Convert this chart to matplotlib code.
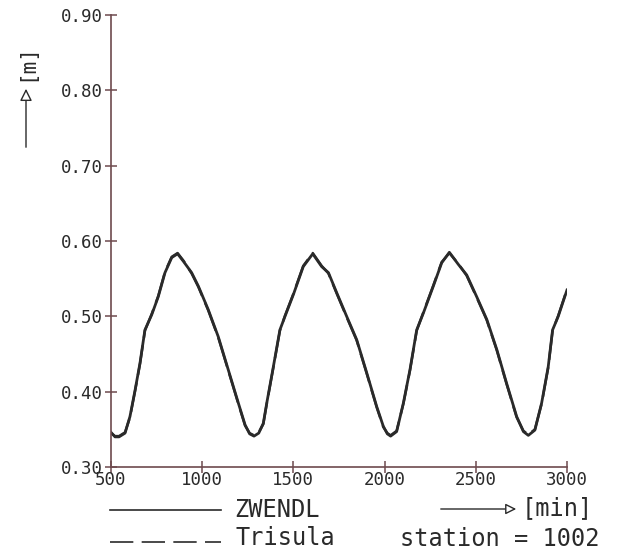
import matplotlib
matplotlib.use("Agg")
import matplotlib.pyplot as plt
from matplotlib.lines import Line2D

# water level at station 1002
t_min = [500, 522, 544, 577, 604, 632, 659, 686, 723, 759, 796, 833, 865, 897,
         942, 979, 1033, 1088, 1143, 1198, 1235, 1260, 1284, 1310, 1335, 1354,
         1390, 1426, 1454, 1500, 1554, 1606, 1655, 1692, 1738, 1792, 1847, 1902,
         1957, 1993, 2015, 2033, 2066, 2103, 2139, 2176, 2212, 2267, 2313, 2355,
         2404, 2450, 2505, 2560, 2615, 2669, 2724, 2761, 2788, 2824, 2861, 2897,
         2921, 2952, 3000]
zwendl = [0.346, 0.340, 0.340, 0.345, 0.367, 0.402, 0.438, 0.482, 0.502, 0.526,
          0.558, 0.578, 0.583, 0.573, 0.558, 0.540, 0.509, 0.473, 0.429, 0.385,
          0.356, 0.344, 0.341, 0.345, 0.358, 0.385, 0.433, 0.482, 0.500, 0.529,
          0.566, 0.583, 0.566, 0.558, 0.531, 0.500, 0.469, 0.425, 0.380, 0.354,
          0.344, 0.341, 0.347, 0.385, 0.429, 0.482, 0.504, 0.540, 0.571, 0.585,
          0.569, 0.555, 0.526, 0.496, 0.456, 0.411, 0.367, 0.347, 0.342, 0.349,
          0.385, 0.433, 0.482, 0.500, 0.535]
trisula = [0.345, 0.341, 0.341, 0.346, 0.366, 0.401, 0.437, 0.481, 0.503, 0.527,
           0.559, 0.579, 0.584, 0.574, 0.557, 0.539, 0.508, 0.472, 0.428, 0.384,
           0.355, 0.345, 0.342, 0.346, 0.357, 0.384, 0.432, 0.481, 0.501, 0.530,
           0.567, 0.584, 0.567, 0.557, 0.530, 0.499, 0.468, 0.424, 0.379, 0.353,
           0.345, 0.342, 0.348, 0.384, 0.428, 0.481, 0.505, 0.541, 0.572, 0.584,
           0.570, 0.554, 0.525, 0.495, 0.455, 0.410, 0.366, 0.348, 0.343, 0.350,
           0.384, 0.432, 0.481, 0.501, 0.536]

x_ticks = [500, 1000, 1500, 2000, 2500, 3000]
y_ticks = [0.30, 0.40, 0.50, 0.60, 0.70, 0.80, 0.90]

ink = "#2a2a2a"
axis_col = "#6e4a4e"
plt.rcParams['font.family'] = ['DejaVu Sans Mono']

fig = plt.figure(figsize=(6.25, 5.55), dpi=100)
ax = fig.add_axes([111 / 625, 1 - 467 / 555, 456 / 625, 452 / 555])

ax.plot(t_min, zwendl, color=ink, lw=2.0, solid_joinstyle='round')
ax.plot(t_min, trisula, color=ink, lw=1.8, ls=(0, (12, 3)), dash_joinstyle='round')

ax.set_xlim(500, 3000)
ax.set_ylim(0.30, 0.90)
ax.set_xticks(x_ticks)
ax.set_xticklabels([str(v) for v in x_ticks])
ax.set_yticks(y_ticks)
ax.set_yticklabels([f"{v:.2f}" for v in y_ticks])

for s in ['top', 'right']:
    ax.spines[s].set_visible(False)
for s in ['left', 'bottom']:
    ax.spines[s].set_color(axis_col)
    ax.spines[s].set_linewidth(1.2)
ax.tick_params(direction='inout', length=8, width=1.1, color=axis_col,
               labelsize=12.5, labelcolor=ink)
ax.tick_params(axis='x', pad=-1)
ax.tick_params(axis='y', pad=2)

# y-axis label with arrow
fig.text(26 / 625, 1 - 62 / 555, "[m]", rotation=90, ha='center', va='center',
         fontsize=15, color=ink)
ax.annotate("", xy=(26 / 625, 1 - 86 / 555), xytext=(26 / 625, 1 - 150 / 555),
            xycoords='figure fraction',
            arrowprops=dict(arrowstyle='-|>', color=ink, lw=1.0, fc='white',
                            mutation_scale=18))

# legend below the axes
fig.add_artist(Line2D([110 / 625, 221 / 625], [1 - 510 / 555] * 2, color=ink, lw=1.2))
fig.add_artist(Line2D([110 / 625, 221 / 625], [1 - 542 / 555] * 2, color=ink, lw=1.2,
                      ls=(0, (14, 5))))
fig.text(234 / 625, 1 - 510 / 555, "ZWENDL", ha='left', va='center', fontsize=17, color=ink)
fig.text(236 / 625, 1 - 538 / 555, "Trisula", ha='left', va='center', fontsize=17, color=ink)

ax.annotate("", xy=(519 / 625, 1 - 509 / 555), xytext=(438 / 625, 1 - 509 / 555),
            xycoords='figure fraction',
            arrowprops=dict(arrowstyle='-|>', color=ink, lw=1.0, fc='white',
                            mutation_scale=16))
fig.text(522 / 625, 1 - 508 / 555, "[min]", ha='left', va='center', fontsize=17, color=ink)
fig.text(400 / 625, 1 - 539 / 555, "station = 1002", ha='left', va='center',
         fontsize=17, color=ink)

fig.savefig("out.png", dpi=100, facecolor='white')
